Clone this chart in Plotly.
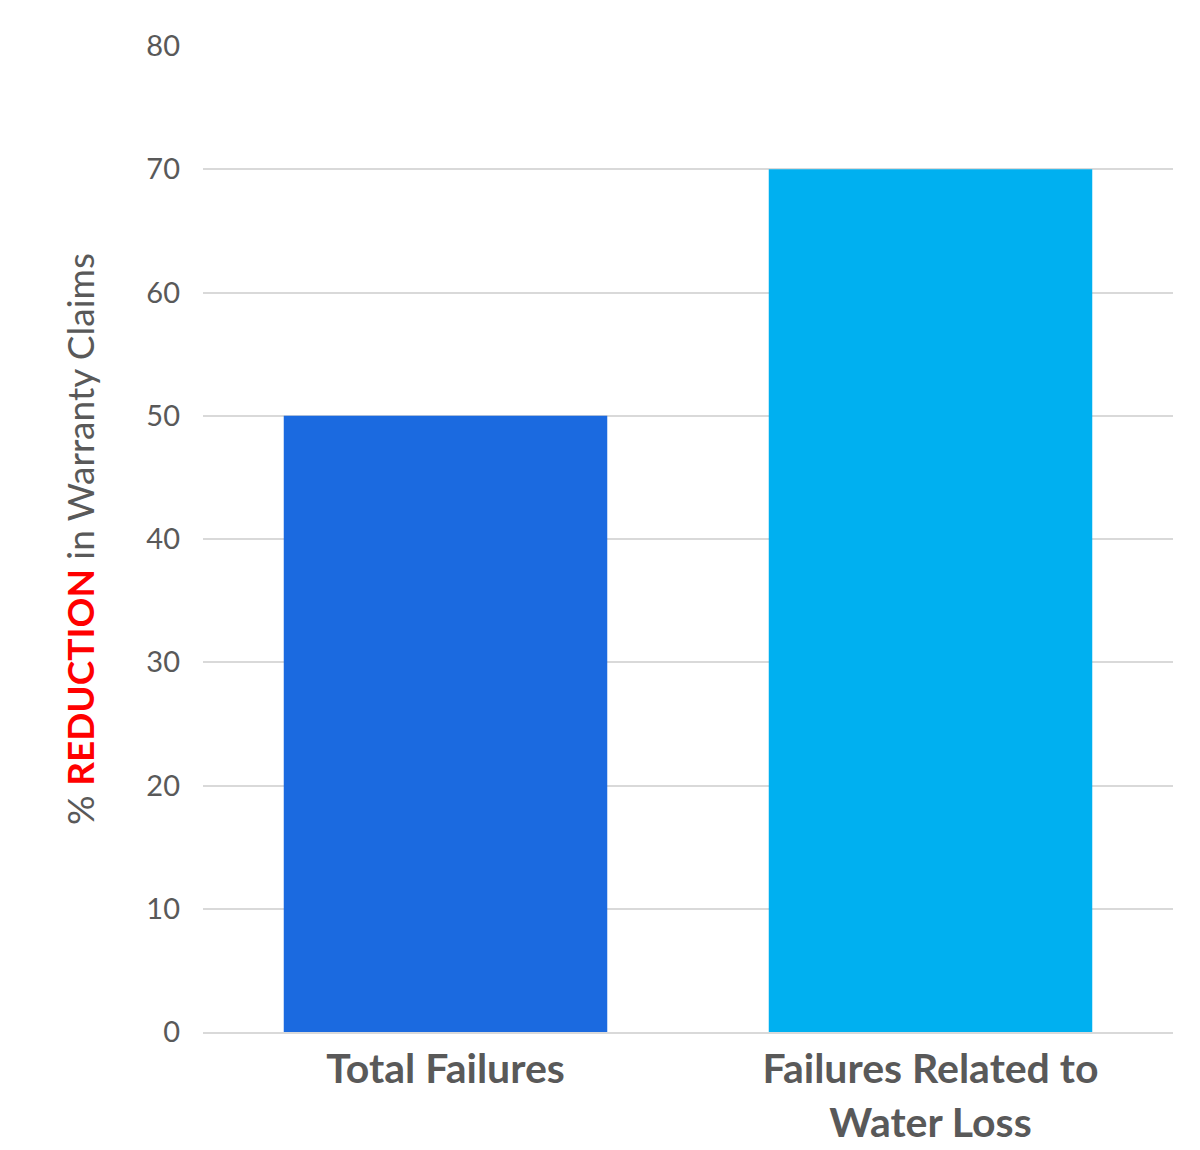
import plotly.graph_objects as go

categories = ["Total Failures", "Failures Related to<br>Water Loss"]
values = [50, 70]
bar_colors = ["#1B6AE0", "#00B0F0"]

fig = go.Figure()
fig.add_trace(go.Bar(x=categories, y=values, marker_color=bar_colors, marker_line_width=0))

fig.update_layout(
    width=1200, height=1150,
    margin=dict(l=195, r=35, t=38, b=124),
    paper_bgcolor="white", plot_bgcolor="white",
    bargap=0.333,
    showlegend=False,
    font=dict(family="Lato", color="#595959"),
    yaxis=dict(
        range=[0, 80], dtick=10,
        showgrid=True, gridcolor="#D9D9D9", gridwidth=2,
        zeroline=False, showline=False,
        ticks="", ticklabelstandoff=22,
        tickfont=dict(size=29, color="#595959"),
        title=dict(
            text="% <b><span style='color:#FF0000'>REDUCTION</span></b> in Warranty Claims",
            font=dict(size=37, color="#595959"),
            standoff=40,
        ),
    ),
    xaxis=dict(
        showline=True, linecolor="#D9D9D9", linewidth=2,
        ticks="", tickfont=dict(size=41, color="#595959", weight="bold"),
    ),
)

fig.write_html("out.html")
